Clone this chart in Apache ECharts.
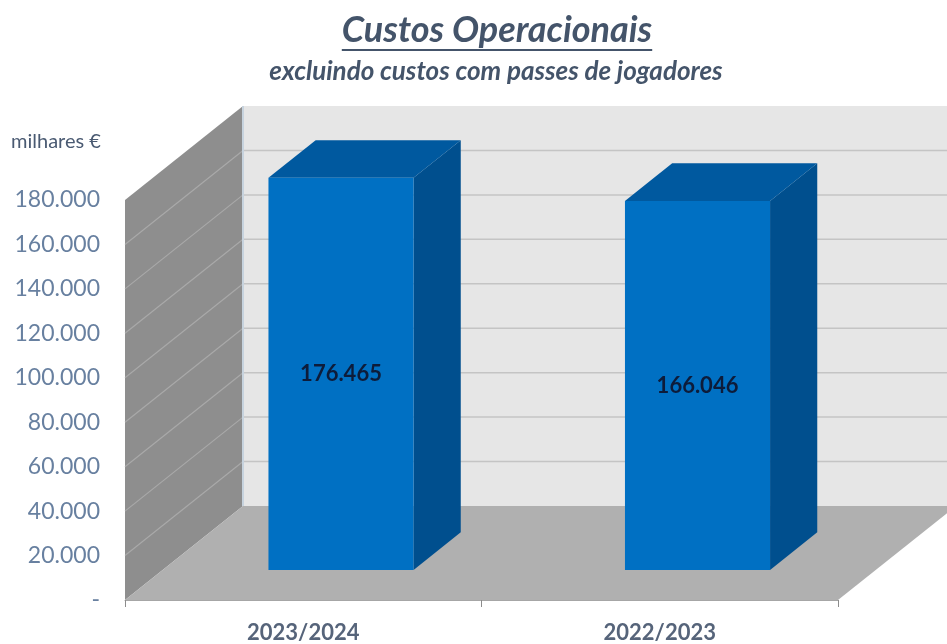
<!DOCTYPE html>
<html>
<head>
<meta charset="utf-8">
<script src="https://cdn.jsdelivr.net/npm/echarts@6/dist/echarts.min.js"></script>
<style>
html,body{margin:0;padding:0;background:#fff;}
#chart{width:947px;height:644px;}
</style>
</head>
<body>
<div id="chart"></div>
<script>
// ---- data ----
const titleText = 'Custos Operacionais';
const subtitleText = 'excluindo custos com passes de jogadores';
const unitText = 'milhares €';
const categories = ['2023/2024', '2022/2023'];
const values = [176465, 166046];
const yTicks = [0, 20000, 40000, 60000, 80000, 100000, 120000, 140000, 160000, 180000];
const yMin = 0, yMax = 180000, yInterval = 20000;

function fmt(v) {
  if (v === 0) return '-';
  return String(Math.round(v)).replace(/\B(?=(\d{3})+(?!\d))/g, '.');
}

// 3D projection settings (pixels)
const DX = 118, DY = -94;
const F0 = 0.32, F1 = 0.72, BAR_W = 0.407;

const chart = echarts.init(document.getElementById('chart'));

const fontFam = 'Lato, "Open Sans", sans-serif';
const TITLE_SIZE = 36;
const mctx = document.createElement('canvas').getContext('2d');
mctx.font = 'italic bold ' + TITLE_SIZE + 'px Lato';
const titleW = mctx.measureText(titleText).width;
const TITLE_X = 497;

const option = {
  animation: false,
  grid: { left: 125, right: 109, top: 200, bottom: 44, containLabel: false },
  xAxis: {
    type: 'category',
    data: categories,
    axisLine: { show: true, lineStyle: { color: '#a6a6a6', width: 1 } },
    axisTick: { show: true, length: 7, lineStyle: { color: '#8c8c8c' } },
    axisLabel: { margin: 22, fontSize: 22, fontWeight: 'bold', color: '#56647a', fontFamily: fontFam }
  },
  yAxis: {
    type: 'value',
    min: yMin, max: yMax, interval: yInterval,
    axisLine: { show: false }, axisTick: { show: false }, splitLine: { show: false },
    axisLabel: { margin: 25, fontSize: 23, color: '#6880a0', fontFamily: fontFam, formatter: fmt }
  },
  graphic: [
    { type: 'text', left: 11, top: 132, style: { text: unitText, fontSize: 20, fill: '#4a5a72', fontFamily: fontFam } },
    { type: 'text', x: TITLE_X, y: 30, style: { text: titleText, fontSize: TITLE_SIZE, fontStyle: 'italic', fontWeight: 'bold', fill: '#44546a', fontFamily: fontFam, align: 'center', verticalAlign: 'middle' } },
    { type: 'line', shape: { x1: TITLE_X - titleW / 2, y1: 50, x2: TITLE_X + titleW / 2, y2: 50 }, style: { stroke: '#44546a', lineWidth: 2 } },
    { type: 'text', x: TITLE_X - 1, y: 72, style: { text: subtitleText, fontSize: 26, fontStyle: 'italic', fontWeight: 'bold', fill: '#44546a', fontFamily: fontFam, align: 'center', verticalAlign: 'middle' } }
  ],
  series: [
    {
      type: 'custom',
      name: 'walls',
      silent: true,
      data: [[0, 0]],
      renderItem: function (params, api) {
        const cs = params.coordSys;
        const x0 = cs.x, x1 = cs.x + cs.width;
        const yb = api.coord([0, yMin])[1];
        const yt = api.coord([0, yMax])[1];
        const children = [];
        children.push({ type: 'polygon', shape: { points: [[x0 + DX, yt + DY], [x1 + DX, yt + DY], [x1 + DX, yb + DY], [x0 + DX, yb + DY]] }, style: { fill: '#e6e6e6' } });
        children.push({ type: 'polygon', shape: { points: [[x0, yb], [x0, yt], [x0 + DX, yt + DY], [x0 + DX, yb + DY]] }, style: { fill: '#8e8e8e' } });
        yTicks.forEach(function (t) {
          if (t === yMin || t === yMax) return;
          const y = api.coord([0, t])[1];
          children.push({ type: 'line', shape: { x1: x0 + DX, y1: y + DY, x2: x1 + DX, y2: y + DY }, style: { stroke: '#c4c4c4', lineWidth: 1.5 } });
          children.push({ type: 'line', shape: { x1: x0, y1: y, x2: x0 + DX, y2: y + DY }, style: { stroke: '#a9a9a9', lineWidth: 1.2 } });
        });
        children.push({ type: 'line', shape: { x1: x0 + DX, y1: yt + DY, x2: x0 + DX, y2: yb + DY }, style: { stroke: '#c7d3de', lineWidth: 2 } });
        children.push({ type: 'polygon', shape: { points: [[x0, yb], [x1, yb], [x1 + DX, yb + DY], [x0 + DX, yb + DY]] }, style: { fill: '#b0b0b0' } });
        return { type: 'group', children: children };
      },
      z: 1
    },
    {
      type: 'custom',
      name: 'Custos',
      data: values.map(function (v, i) { return [i, v]; }),
      renderItem: function (params, api) {
        const c0 = api.coord([api.value(0), yMin]);
        const c1 = api.coord([api.value(0), api.value(1)]);
        const bw = api.size([1, 0])[0] * BAR_W;
        const xl = c0[0] - bw / 2 + F0 * DX, xr = xl + bw;
        const yb = c0[1] + F0 * DY, yt = c1[1] + F0 * DY;
        const dx = (F1 - F0) * DX, dy = (F1 - F0) * DY;
        return {
          type: 'group',
          children: [
            { type: 'polygon', shape: { points: [[xr, yt], [xr + dx, yt + dy], [xr + dx, yb + dy], [xr, yb]] }, style: { fill: '#004f8e' } },
            { type: 'polygon', shape: { points: [[xl, yt], [xl + dx, yt + dy], [xr + dx, yt + dy], [xr, yt]] }, style: { fill: '#00599f' } },
            { type: 'rect', shape: { x: xl, y: yt, width: bw, height: yb - yt }, style: { fill: '#0070c3' } },
            { type: 'text', style: { x: (xl + xr) / 2, y: (yt + yb) / 2, text: fmt(api.value(1)), fontSize: 22, fontWeight: 'bold', fill: '#0d1c3a', fontFamily: fontFam, align: 'center', verticalAlign: 'middle' } }
          ]
        };
      },
      z: 2
    }
  ]
};
chart.setOption(option);
</script>
</body>
</html>
